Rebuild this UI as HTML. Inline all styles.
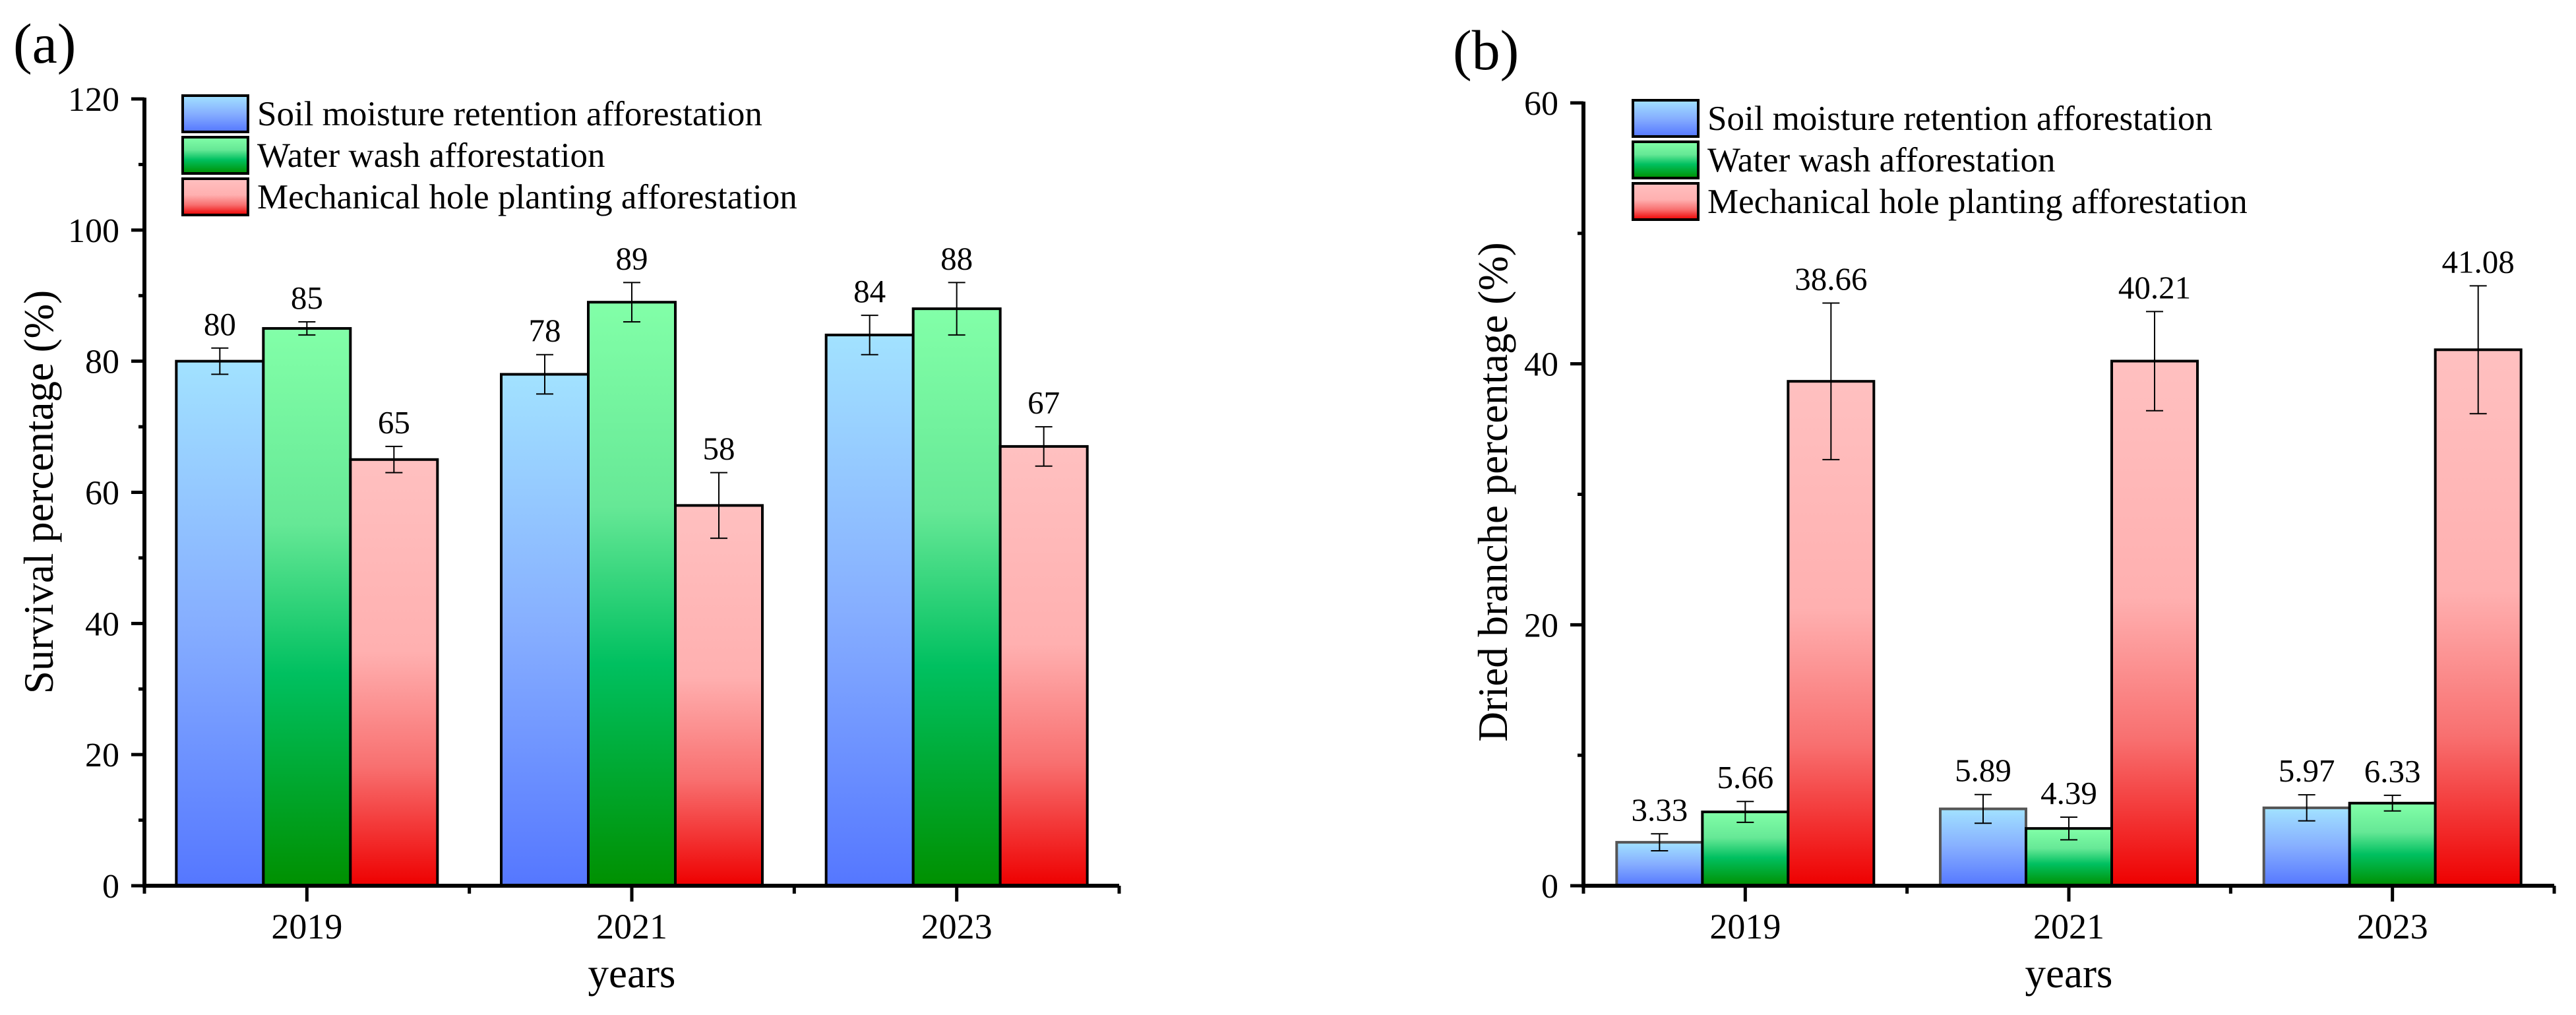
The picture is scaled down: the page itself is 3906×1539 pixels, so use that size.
<!DOCTYPE html>
<html><head><meta charset="utf-8"><style>
html,body{margin:0;padding:0;background:#fff;}
svg{display:block;font-family:"Liberation Serif","Times New Roman",serif;}
</style></head><body>
<svg id="chart" width="3906" height="1539" viewBox="0 0 3906 1539" xmlns="http://www.w3.org/2000/svg">
<defs>
<linearGradient id="gBlue" x1="0" y1="0" x2="0" y2="1"><stop offset="0" stop-color="#a2e2ff"/><stop offset="0.5" stop-color="#86aeff"/><stop offset="1" stop-color="#5577ff"/></linearGradient>
<linearGradient id="gGreen" x1="0" y1="0" x2="0" y2="1"><stop offset="0" stop-color="#82ffa8"/><stop offset="0.35" stop-color="#66e896"/><stop offset="0.62" stop-color="#00c060"/><stop offset="1" stop-color="#009000"/></linearGradient>
<linearGradient id="gRed" x1="0" y1="0" x2="0" y2="1"><stop offset="0" stop-color="#ffc0c0"/><stop offset="0.45" stop-color="#ffb0b0"/><stop offset="0.72" stop-color="#f87070"/><stop offset="1" stop-color="#ee0000"/></linearGradient>
</defs>
</svg>
<script>
const categories = ["2019","2021","2023"];
const seriesNames = ["Soil moisture retention afforestation","Water wash afforestation","Mechanical hole planting afforestation"];
const survivalSoil = [80, 78, 84];
const survivalWater = [85, 89, 88];
const survivalMech = [65, 58, 67];
const survivalErrSoil = [2, 3, 3];
const survivalErrWater = [1, 3, 4];
const survivalErrMech = [2, 5, 3];
const survivalTicks = [0, 20, 40, 60, 80, 100, 120];
const driedSoil = [3.33, 5.89, 5.97];
const driedWater = [5.66, 4.39, 6.33];
const driedMech = [38.66, 40.21, 41.08];
const driedErrSoil = [0.65, 1.1, 1.0];
const driedErrWater = [0.8, 0.87, 0.6];
const driedErrMech = [6.0, 3.8, 4.9];
const driedTicks = [0, 20, 40, 60];

const NS = "http://www.w3.org/2000/svg";
const svg = document.getElementById("chart");
function mk(tag, attrs, parent, text){
  const e = document.createElementNS(NS, tag);
  for (const k in attrs) e.setAttribute(k, attrs[k]);
  if (text !== undefined) e.textContent = text;
  (parent || svg).appendChild(e);
  return e;
}
const fills = ["url(#gBlue)","url(#gGreen)","url(#gRed)"];

function panel(cfg){
  const g = mk("g", {});
  
  
  const yScale = v => cfg.y0 - (v - 0) / cfg.ymax * (cfg.y0 - cfg.ytop);
  const step = (cfg.xr - cfg.xl) / categories.length;
  const xCenter = i => cfg.xl + step * (i + 0.5);
  const bw = cfg.bw;
  const vals = [cfg.s0, cfg.s1, cfg.s2], errs = [cfg.e0, cfg.e1, cfg.e2];
  for (let s = 0; s < 3; s++) {
    for (let i = 0; i < categories.length; i++) {
      const v = vals[s][i];
      const x = xCenter(i) + (s - 1.5) * bw;
      const yt = yScale(v);
      const r = mk("rect", {x: x, y: yt, width: bw, height: cfg.y0 - yt, fill: fills[s], stroke: (cfg.grayBlue && s===0) ? "#555" : "#000", "stroke-width": 4}, g);
      
      
      const cx = x + bw / 2, e = errs[s][i];
      const yh = yScale(v + e), yl = yScale(v - e);
      const eb = mk("path", {d: `M${cx},${yh}V${yl}M${cx-13},${yh}H${cx+13}M${cx-13},${yl}H${cx+13}`, stroke: "#000", "stroke-width": 2, fill: "none"}, g);
      
      
      const t = mk("text", {x: cx, y: yh - 20, "text-anchor": "middle", "font-size": 49}, g, cfg.fmt(v));
      
      
    }
  }
  const ax = mk("path", {d: `M${cfg.xl},${cfg.ytop-2}V${cfg.y0}H${cfg.xr}`, stroke: "#000", "stroke-width": 6, fill: "none"}, g);
  
  
  const minorStep = cfg.tickVals[1] / 2;
  for (let v = 0; v <= cfg.ymax + 1e-9; v += minorStep) {
    const y = yScale(v);
    const major = cfg.tickVals.some(t => Math.abs(t - v) < 1e-9);
    const tk = mk("line", {x1: cfg.xl - (major ? 20 : 9), x2: cfg.xl, y1: y, y2: y, stroke: "#000", "stroke-width": 5}, g);
    
    
  }
  cfg.tickVals.forEach(v => {
    const t = mk("text", {x: cfg.xl - 38, y: yScale(v) + 18, "text-anchor": "end", "font-size": 52}, g, String(v));
    
    
  });
  for (let i = 0; i <= categories.length; i++) {
    const x = cfg.xl + step * i;
    const tk = mk("line", {x1: x, x2: x, y1: cfg.y0, y2: cfg.y0 + 12, stroke: "#000", "stroke-width": 5}, g);
    
    
  }
  categories.forEach((c, i) => {
    const x = xCenter(i);
    const tk = mk("line", {x1: x, x2: x, y1: cfg.y0, y2: cfg.y0 + 24, stroke: "#000", "stroke-width": 5}, g);
    
    
    const t = mk("text", {x: x, y: cfg.y0 + 80, "text-anchor": "middle", "font-size": 54}, g, c);
    
    
  });
  const xt = mk("text", {x: (cfg.xl + cfg.xr) / 2, y: 1497, "text-anchor": "middle", "font-size": 63}, g, "years");
  
  
  const yt = mk("text", {x: 0, y: 0, "text-anchor": "middle", "font-size": 63, transform: `translate(${cfg.ytx},746) rotate(-90)`}, g, cfg.ytitle);
  
  
  const pl = mk("text", {x: cfg.plx, y: cfg.ply, "font-size": 86}, g, cfg.plabel);
  
  
  const lg = mk("g", {}, g);
  
  
  for (let s = 0; s < 3; s++) {
    const y = cfg.legY + s * 63;
    const r = mk("rect", {x: cfg.legX, y: y, width: 99, height: 55, fill: fills[s], stroke: "#000", "stroke-width": 4}, lg);
    
    
    const t = mk("text", {x: cfg.legX + 113, y: y + 45, "font-size": 53}, lg, seriesNames[s]);
    
    
  }
}

panel({name: "survival-chart", key: "a", xl: 219, xr: 1697, y0: 1343, ytop: 150, ymax: 120, bw: 132,
  s0: survivalSoil, s1: survivalWater, s2: survivalMech, e0: survivalErrSoil, e1: survivalErrWater, e2: survivalErrMech,
  tickVals: survivalTicks, fmt: v => String(v), ytitle: "Survival percentage (%)", ytx: 80,
  plabel: "(a)", plx: 20, ply: 95, legX: 277, legY: 145, grayBlue: false});
panel({name: "dried-branch-chart", key: "b", xl: 2401, xr: 3873, y0: 1343, ytop: 156, ymax: 60, bw: 130,
  s0: driedSoil, s1: driedWater, s2: driedMech, e0: driedErrSoil, e1: driedErrWater, e2: driedErrMech,
  tickVals: driedTicks, fmt: v => v.toFixed(2), ytitle: "Dried branche percentage (%)", ytx: 2285,
  plabel: "(b)", plx: 2203, ply: 105, legX: 2476, legY: 152, grayBlue: true});
</script>
</body></html>
